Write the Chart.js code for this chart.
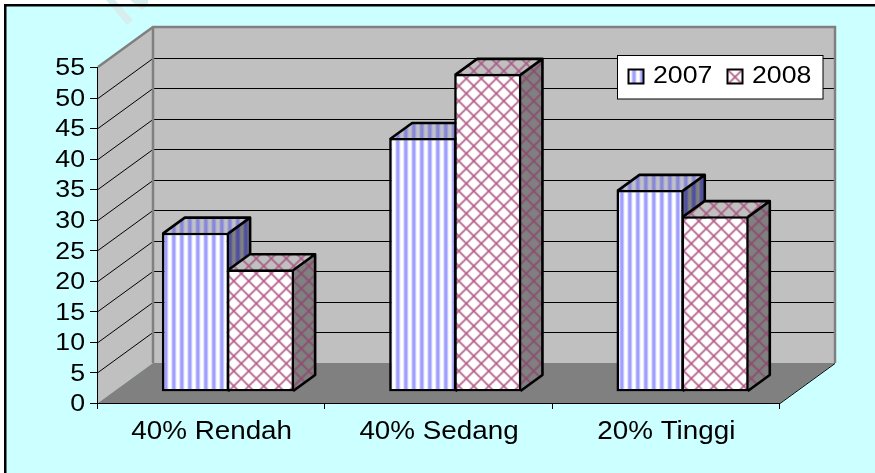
<!DOCTYPE html>
<html>
<head>
<meta charset="utf-8">
<style>html,body{margin:0;padding:0;background:#fff}canvas{display:block}</style>
<script src="https://cdn.jsdelivr.net/npm/chart.js@4"></script>
</head>
<body>
<canvas id="c" width="875" height="473"></canvas>
<script>
const categories = ['40% Rendah', '40% Sedang', '20% Tinggi'];
const seriesNames = ['2007', '2008'];
const values2007 = [26, 41.5, 33];
const values2008 = [20, 52, 28.7];
const yMax = 55;
const yStep = 5;

const FONT = '24.5px "Liberation Sans", Arial, sans-serif';
const CAT_FONT = '25.5px "Liberation Sans", Arial, sans-serif';
const STRETCH = 1.09;
const WALL = {dx: 55, dy: -40};
const BAR_OFF = {dx: 16.3, dy: -11.5};
const DEPTH = {dx: 22, dy: -16};

function tile(w, h, paint) {
  const t = document.createElement('canvas');
  t.width = w; t.height = h;
  paint(t.getContext('2d'), w, h);
  return t;
}
function stripeTile(bg, mid, dark) {
  return tile(8, 8, (g) => {
    g.fillStyle = bg; g.fillRect(0, 0, 8, 8);
    g.fillStyle = mid; g.fillRect(3, 0, 1, 8); g.fillRect(7, 0, 1, 8);
    g.fillStyle = dark; g.fillRect(4, 0, 3, 8);
  });
}
function latticeTile(bg, line) {
  return tile(15, 15, (g, w, h) => {
    g.fillStyle = bg; g.fillRect(0, 0, w, h);
    g.strokeStyle = line; g.lineWidth = 1.6;
    g.beginPath();
    g.moveTo(-1, -1); g.lineTo(w + 1, h + 1);
    g.moveTo(w + 1, -1); g.lineTo(-1, h + 1);
    g.stroke();
  });
}
const probe = document.getElementById('c').getContext('2d');
const stripeFront = probe.createPattern(stripeTile('#ffffff', '#d8d8ff', '#a0a0ff'), 'repeat');
const latticeFront = probe.createPattern(latticeTile('#ffffff', '#b45c88'), 'repeat');
const stripeTop = probe.createPattern(stripeTile('#c0c0c8', '#a8a8d4', '#8888d4'), 'repeat');
const stripeSide = probe.createPattern(stripeTile('#808080', '#686890', '#5050a0'), 'repeat');
const latticeTop = probe.createPattern(latticeTile('#c0c0c0', '#a85c84'), 'repeat');
const latticeSide = probe.createPattern(latticeTile('#808080', '#8c4c70'), 'repeat');

function poly(ctx, pts) {
  ctx.beginPath();
  pts.forEach((p, i) => i ? ctx.lineTo(p[0], p[1]) : ctx.moveTo(p[0], p[1]));
  ctx.closePath();
}
function stretchedText(ctx, text, x, y, align, baseline, font) {
  ctx.save();
  ctx.font = font || FONT;
  ctx.fillStyle = '#000000';
  ctx.textAlign = align;
  ctx.textBaseline = baseline;
  ctx.translate(x, y);
  ctx.scale(STRETCH, 1);
  ctx.fillText(text, 0, 0);
  ctx.restore();
}
function drawFaces(ctx, meta, lattice) {
  meta.data.forEach((el) => {
    const {x, y, base, width} = el.getProps(['x', 'y', 'base', 'width'], true);
    const l = x - width / 2, r = x + width / 2, t = y + 1, b = base - 0.5;
    const dx = DEPTH.dx, dy = DEPTH.dy;
    ctx.fillStyle = lattice ? latticeTop : stripeTop;
    poly(ctx, [[l + 1, t], [l + 1 + dx, t + dy], [r - 1 + dx, t + dy], [r - 1, t]]);
    ctx.fill();
    ctx.fillStyle = lattice ? latticeSide : stripeSide;
    poly(ctx, [[r - 1, t], [r - 1 + dx, t + dy], [r - 1 + dx, b + dy], [r - 1, b]]);
    ctx.fill();
    ctx.strokeStyle = '#000000'; ctx.lineWidth = 2.6; ctx.lineJoin = 'round';
    ctx.beginPath();
    ctx.moveTo(l + 1, t);
    ctx.lineTo(l + 1 + dx, t + dy);
    ctx.lineTo(r - 1 + dx, t + dy);
    ctx.lineTo(r - 1, t);
    ctx.moveTo(r - 1 + dx, t + dy);
    ctx.lineTo(r - 1 + dx, b + dy);
    ctx.lineTo(r - 1, b);
    ctx.stroke();
  });
}

const scene3d = {
  id: 'scene3d',
  beforeDraw(chart) {
    const {ctx, scales: {x, y}} = chart;
    const L = x.left, R = x.right, T = y.getPixelForValue(yMax), B = y.getPixelForValue(0);
    ctx.save();
    ctx.fillStyle = '#ffffff'; ctx.fillRect(0, 0, chart.width, chart.height);
    ctx.fillStyle = '#ccffff'; ctx.fillRect(5, 5, chart.width, chart.height);
    ctx.fillStyle = '#d8eeee';
    poly(ctx, [[106, 0], [115, 0], [133, 20], [127, 25]]); ctx.fill();
    poly(ctx, [[130, 0], [148, 0], [148, 5], [142, 10]]); ctx.fill();
    ctx.fillStyle = '#000000';
    ctx.fillRect(4, 4, chart.width, 2.5);
    ctx.fillRect(4, 4, 2.5, chart.height);

    ctx.fillStyle = '#c0c0c0';
    poly(ctx, [[L, T], [L + WALL.dx, T + WALL.dy], [R + WALL.dx, T + WALL.dy], [R + WALL.dx, B + WALL.dy], [L + WALL.dx, B + WALL.dy], [L, B]]);
    ctx.fill();
    ctx.fillStyle = '#808080';
    poly(ctx, [[L, B], [L + WALL.dx, B + WALL.dy], [R + WALL.dx, B + WALL.dy], [R, B]]);
    ctx.fill();

    ctx.strokeStyle = '#000000'; ctx.lineWidth = 1;
    y.ticks.forEach((t) => {
      if (t.value === 0 || t.value === yMax) return;
      const py = Math.round(y.getPixelForValue(t.value));
      ctx.beginPath();
      ctx.moveTo(L, py + 0.5);
      ctx.lineTo(L + WALL.dx, py + 0.5 + WALL.dy);
      ctx.moveTo(L + WALL.dx, py + WALL.dy + 0.5);
      ctx.lineTo(R + WALL.dx - 1, py + WALL.dy + 0.5);
      ctx.stroke();
    });

    ctx.strokeStyle = '#808080'; ctx.lineWidth = 2.5;
    ctx.beginPath();
    ctx.moveTo(L, T); ctx.lineTo(L + WALL.dx, T + WALL.dy);
    ctx.lineTo(R + WALL.dx, T + WALL.dy); ctx.lineTo(R + WALL.dx, B + WALL.dy);
    ctx.moveTo(L + WALL.dx, T + WALL.dy); ctx.lineTo(L + WALL.dx, B + WALL.dy);
    ctx.stroke();

    ctx.strokeStyle = '#000000'; ctx.lineWidth = 1;
    ctx.beginPath();
    ctx.moveTo(L - 0.5, T); ctx.lineTo(L - 0.5, B + 6);
    ctx.moveTo(L, B + 0.5); ctx.lineTo(R, B + 0.5);
    ctx.lineTo(R + WALL.dx, B + 0.5 + WALL.dy);
    y.ticks.forEach((t) => {
      const py = Math.round(y.getPixelForValue(t.value)) + 0.5;
      ctx.moveTo(L - 8, py); ctx.lineTo(L, py);
    });
    const step = x.width / categories.length;
    categories.forEach((c, i) => {
      const px = Math.round(x.getPixelForValue(i) + step / 2) - 0.5;
      ctx.moveTo(px, B); ctx.lineTo(px, B + 6);
    });
    ctx.stroke();
    ctx.restore();

    y.ticks.forEach((t) => stretchedText(ctx, String(t.value), L - 13, y.getPixelForValue(t.value) + 1.5, 'right', 'middle'));
    categories.forEach((c, i) => stretchedText(ctx, c, x.getPixelForValue(i), 439, 'center', 'alphabetic', CAT_FONT));
  },
  // the first series' depth faces go down first, so the second series can cover them
  beforeDatasetsDraw(chart) {
    const {ctx} = chart;
    ctx.save();
    ctx.translate(BAR_OFF.dx, BAR_OFF.dy);
    drawFaces(ctx, chart.getDatasetMeta(0), false);
    ctx.restore();
  },
  beforeDatasetDraw(chart, args) {
    const {ctx} = chart;
    ctx.save();
    ctx.translate(BAR_OFF.dx, BAR_OFF.dy);
    if (args.index === 1) drawFaces(ctx, args.meta, true);
  },
  afterDatasetDraw(chart) {
    chart.ctx.restore();
  },
  afterDatasetsDraw(chart) {
    const {ctx, data: {datasets}} = chart;
    ctx.save();
    ctx.fillStyle = '#ffffff'; ctx.fillRect(617, 55, 206, 44);
    ctx.strokeStyle = '#000000'; ctx.lineWidth = 1;
    ctx.strokeRect(617.5, 55.5, 205.5, 43.5);
    const swatchX = [628.5, 727.5], textX = [653, 752];
    datasets.forEach((d, i) => {
      ctx.save();
      ctx.translate(swatchX[i], 69.5);
      ctx.fillStyle = d.backgroundColor;
      ctx.fillRect(0, 0, 15, 14);
      ctx.lineWidth = 2;
      ctx.strokeRect(0, 0, 15, 14);
      ctx.restore();
      stretchedText(ctx, d.label, textX[i], 83, 'left', 'alphabetic');
    });
    ctx.restore();
  }
};

new Chart(document.getElementById('c'), {
  type: 'bar',
  data: {
    labels: categories,
    datasets: [
      {label: seriesNames[0], data: values2007, backgroundColor: stripeFront},
      {label: seriesNames[1], data: values2008, backgroundColor: latticeFront}
    ]
  },
  options: {
    responsive: false,
    animation: false,
    devicePixelRatio: 1,
    layout: {padding: {left: 98, right: 95, top: 67, bottom: 70}},
    datasets: {bar: {categoryPercentage: 0.572, barPercentage: 1.035, borderWidth: 2.6, borderColor: '#000000', borderSkipped: false}},
    scales: {
      x: {grid: {display: false, drawTicks: false}, border: {display: false}, ticks: {display: false}},
      y: {min: 0, max: yMax, grid: {display: false, drawTicks: false}, border: {display: false}, ticks: {display: false, stepSize: yStep}}
    },
    plugins: {legend: {display: false}, tooltip: {enabled: false}}
  },
  plugins: [scene3d]
});
</script>
</body>
</html>
